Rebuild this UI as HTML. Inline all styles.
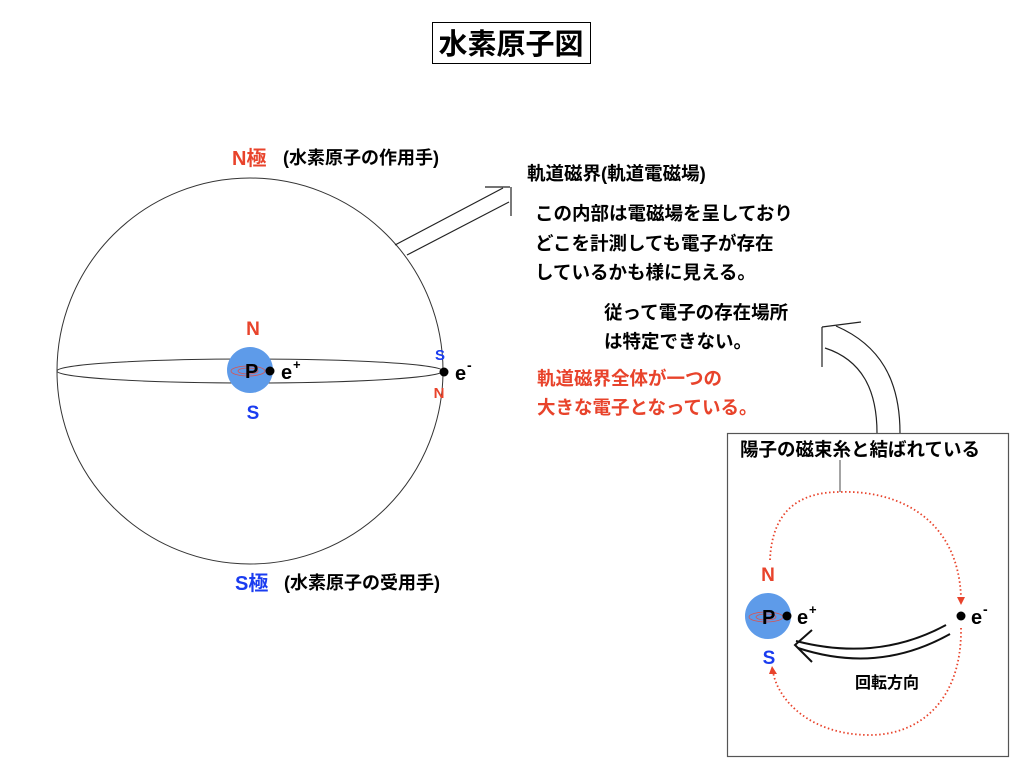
<!DOCTYPE html>
<html><head><meta charset="utf-8"><style>
body{margin:0;background:#fff}
svg text{font-family:"Liberation Sans","Noto Sans CJK JP",sans-serif;font-weight:bold}
</style></head><body>
<svg width="1024" height="768" viewBox="0 0 1024 768" xmlns="http://www.w3.org/2000/svg">
<rect width="1024" height="768" fill="#fff"/>
<rect x="432.5" y="22.5" width="158" height="41" fill="none" stroke="#000" stroke-width="1"/>
<text x="511" y="54" font-size="29" text-anchor="middle">水素原子図</text>

<circle cx="250" cy="371" r="193" fill="none" stroke="#333" stroke-width="1"/>
<ellipse cx="250" cy="371" rx="193" ry="12" fill="none" stroke="#333" stroke-width="1"/>
<circle cx="250" cy="370" r="23" fill="#5e9be9"/>
<ellipse cx="248" cy="371" rx="17" ry="5" fill="none" stroke="#d9534f" stroke-width="0.8"/>
<ellipse cx="248" cy="371" rx="10" ry="3" fill="none" stroke="#d9534f" stroke-width="0.8"/>
<text x="245" y="378" font-size="20">P</text>
<circle cx="270" cy="371" r="4.5"/>
<text x="281" y="379" font-size="20" font-weight="normal">e</text><text x="293" y="369" font-size="13">+</text>
<circle cx="444" cy="372" r="4.5"/>
<text x="455" y="380" font-size="20" font-weight="normal">e</text><text x="467" y="370" font-size="14">-</text>
<text x="253" y="335" font-size="19" fill="#e8432b" text-anchor="middle">N</text>
<text x="253" y="419" font-size="19" fill="#1a3cf0" text-anchor="middle">S</text>
<text x="440" y="360" font-size="15" fill="#1a3cf0" text-anchor="middle">S</text>
<text x="439" y="398" font-size="15" fill="#e8432b" text-anchor="middle">N</text>

<text x="232" y="165" font-size="20" fill="#e8432b">N極</text>
<text x="283" y="164" font-size="18">(水素原子の作用手)</text>
<text x="235" y="590" font-size="20" fill="#1a3cf0">S極</text>
<text x="284" y="589" font-size="18">(水素原子の受用手)</text>

<g stroke="#222" stroke-width="1.2" fill="none">
<line x1="395" y1="245" x2="503" y2="188"/>
<line x1="407" y1="255" x2="509" y2="202"/>
<line x1="485" y1="187" x2="510" y2="187"/>
<line x1="511" y1="187" x2="511" y2="216"/>
</g>

<g font-size="18.5">
<text x="527" y="180">軌道磁界(軌道電磁場)</text>
<text x="535" y="220">この内部は電磁場を呈しており</text>
<text x="535" y="250">どこを計測しても電子が存在</text>
<text x="535" y="279">しているかも様に見える。</text>
<text x="604" y="319">従って電子の存在場所</text>
<text x="604" y="348">は特定できない。</text>
<text x="537" y="385" fill="#e8432b">軌道磁界全体が一つの</text>
<text x="537" y="414" fill="#e8432b">大きな電子となっている。</text>
</g>

<g stroke="#222" stroke-width="1.2" fill="none">
<path d="M900 433 C900 380 880 345 836 326"/>
<path d="M877 433 C877 390 862 360 825 348"/>
<line x1="822" y1="327" x2="861" y2="322"/>
<line x1="822" y1="327" x2="822" y2="367"/>
</g>

<rect x="727.5" y="433.5" width="281" height="323" fill="none" stroke="#555" stroke-width="1.2"/>
<text x="740" y="456" font-size="18.5">陽子の磁束糸と結ばれている</text>
<line x1="840" y1="460" x2="840" y2="492" stroke="#666" stroke-width="1.2"/>
<g stroke="#e8432b" stroke-width="1.8" stroke-dasharray="1.5 2.5" fill="none">
<path d="M770 560 C772 510 800 492 840 492 C900 490 958 520 961 597"/>
<path d="M961 628 C962 700 920 735 870 735 C810 735 778 700 773 672"/>
</g>
<polygon points="957,597 965,597 961,605" fill="#e8432b"/>
<polygon points="769,674 777,674 772,666" fill="#e8432b"/>

<circle cx="768" cy="616" r="23" fill="#5e9be9"/>
<ellipse cx="766" cy="617" rx="17" ry="5" fill="none" stroke="#d9534f" stroke-width="0.8"/>
<ellipse cx="766" cy="617" rx="10" ry="3" fill="none" stroke="#d9534f" stroke-width="0.8"/>
<text x="762" y="624" font-size="20">P</text>
<circle cx="787" cy="616" r="4.5"/>
<text x="797" y="624" font-size="20" font-weight="normal">e</text><text x="809" y="614" font-size="13">+</text>
<circle cx="961" cy="616" r="4.5"/>
<text x="971" y="624" font-size="20" font-weight="normal">e</text><text x="983" y="614" font-size="14">-</text>
<text x="768" y="581" font-size="19" fill="#e8432b" text-anchor="middle">N</text>
<text x="769" y="664" font-size="19" fill="#1a3cf0" text-anchor="middle">S</text>

<g stroke="#111" stroke-width="2" fill="none">
<path d="M946 625 C900 650 850 655 796 641"/>
<path d="M950 634 C900 662 850 665 798 648"/>
<polyline points="812,630 795,645 812,662"/>
</g>
<text x="855" y="688" font-size="16">回転方向</text>
</svg>
</body></html>
